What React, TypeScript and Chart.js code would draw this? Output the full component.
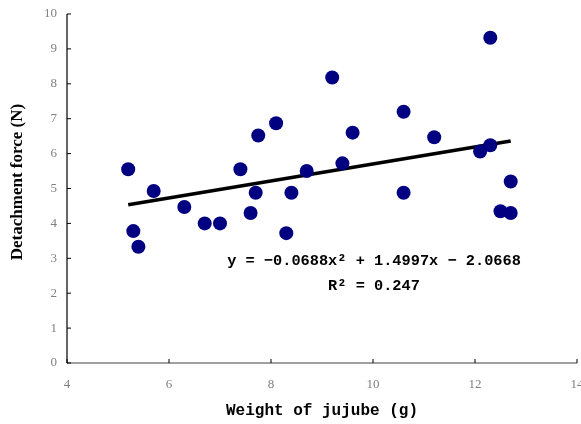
import React, { useEffect, useRef } from "react";
import { Chart, registerables } from "chart.js";

Chart.register(...registerables);

const weights = [5.2, 5.3, 5.4, 5.7, 6.3, 6.7, 7.0, 7.4, 7.6, 7.7, 7.75, 8.1, 8.3, 8.4, 8.7, 9.2, 9.4, 9.6, 10.6, 10.6, 11.2, 12.1, 12.3, 12.3, 12.7, 12.5, 12.7];
const forces = [5.55, 3.78, 3.33, 4.93, 4.47, 4.0, 4.0, 5.55, 4.3, 4.88, 6.52, 6.87, 3.72, 4.88, 5.5, 8.18, 5.72, 6.6, 7.2, 4.88, 6.47, 6.06, 6.24, 9.32, 5.2, 4.35, 4.3];
const equationText = "y = \u22120.0688x\u00b2 + 1.4997x \u2212 2.0668";
const r2Text = "R\u00b2 = 0.247";
const xTitle = "Weight of jujube (g)";
const yTitle = "Detachment force (N)";

function linearFit(xs: number[], ys: number[]) {
  const n = xs.length;
  const mx = xs.reduce((a, b) => a + b, 0) / n;
  const my = ys.reduce((a, b) => a + b, 0) / n;
  let sxy = 0, sxx = 0;
  for (let i = 0; i < n; i++) {
    sxy += (xs[i] - mx) * (ys[i] - my);
    sxx += (xs[i] - mx) * (xs[i] - mx);
  }
  const b = sxy / sxx;
  return { a: my - b * mx, b };
}

export default function App() {
  const ref = useRef<HTMLCanvasElement>(null);
  useEffect(() => {
    const fit = linearFit(weights, forces);
    const xmin = Math.min(...weights);
    const xmax = Math.max(...weights);
    const trend = [xmin, xmax].map((x) => ({ x, y: fit.a + fit.b * x }));

    const overlay = {
      id: "overlay",
      afterDraw(chart: any) {
        const ctx = chart.ctx;
        const xs = chart.scales.x;
        const ys = chart.scales.y;
        const area = chart.chartArea;
        ctx.save();
        ctx.strokeStyle = "#808080";
        ctx.lineWidth = 1.5;
        ctx.beginPath();
        ctx.moveTo(area.left, area.bottom);
        ctx.lineTo(area.right, area.bottom);
        ctx.stroke();
        ctx.strokeStyle = "#000000";
        ctx.lineWidth = 1.2;
        ctx.beginPath();
        ctx.moveTo(area.left, area.top);
        ctx.lineTo(area.left, area.bottom);
        ctx.stroke();
        ctx.lineWidth = 1;
        ctx.strokeStyle = "#000000";
        xs.ticks.forEach((t: any) => {
          const px = xs.getPixelForValue(t.value);
          ctx.beginPath();
          ctx.moveTo(px, area.bottom);
          ctx.lineTo(px, area.bottom - 4);
          ctx.stroke();
        });
        ys.ticks.forEach((t: any) => {
          const py = ys.getPixelForValue(t.value);
          ctx.beginPath();
          ctx.moveTo(area.left, py);
          ctx.lineTo(area.left + 4, py);
          ctx.stroke();
        });
        ctx.fillStyle = "#000000";
        ctx.textAlign = "center";
        ctx.textBaseline = "middle";
        ctx.font = "bold 16px 'Liberation Mono'";
        ctx.fillText(xTitle, (area.left + area.right) / 2, 411);
        ctx.save();
        ctx.translate(18, 182);
        ctx.rotate(-Math.PI / 2);
        ctx.font = "bold 17px 'Liberation Serif'";
        ctx.fillText(yTitle, 0, 0);
        ctx.restore();
        ctx.font = "bold 15.3px 'Liberation Mono'";
        ctx.fillText(equationText, 374, 261);
        ctx.fillText(r2Text, 374, 286);
        ctx.restore();
      },
    };

    const chart = new Chart(ref.current!, {
      type: "scatter",
      data: {
        datasets: [
          {
            type: "scatter",
            data: weights.map((x, i) => ({ x, y: forces[i] })),
            backgroundColor: "#000080",
            borderColor: "#000080",
            pointRadius: 7,
            pointHoverRadius: 7,
            borderWidth: 0,
          },
          {
            type: "line",
            data: trend,
            borderColor: "#000000",
            borderWidth: 3.5,
            pointRadius: 0,
            fill: false,
          } as any,
        ],
      },
      options: {
        animation: false,
        responsive: false,
        events: [],
        layout: { autoPadding: false, padding: { top: 14, right: 4, left: 0, bottom: 0 } },
        plugins: { legend: { display: false }, tooltip: { enabled: false } },
        scales: {
          x: {
            type: "linear",
            min: 4,
            max: 14,
            border: { display: false },
            grid: { display: false, drawTicks: false },
            ticks: {
              stepSize: 2,
              padding: 14,
              color: "#808080",
              font: { family: "'Liberation Serif'", size: 13 },
            },
            afterFit: (s: any) => { s.height = 61; s.paddingLeft = 0; s.paddingRight = 0; },
          },
          y: {
            type: "linear",
            min: 0,
            max: 10,
            border: { display: false },
            grid: { display: false, drawTicks: false },
            ticks: {
              stepSize: 1,
              padding: 10,
              color: "#808080",
              font: { family: "'Liberation Serif'", size: 13 },
            },
            afterFit: (s: any) => { s.width = 67; s.paddingTop = 0; s.paddingBottom = 0; },
          },
        },
      },
      plugins: [overlay],
    });
    return () => chart.destroy();
  }, []);
  return (
    <div style={{ position: "fixed", left: 0, top: 0, width: 581, height: 424, background: "#fff" }}>
      <canvas ref={ref} width={581} height={424} style={{ width: 581, height: 424 }} />
    </div>
  );
}
